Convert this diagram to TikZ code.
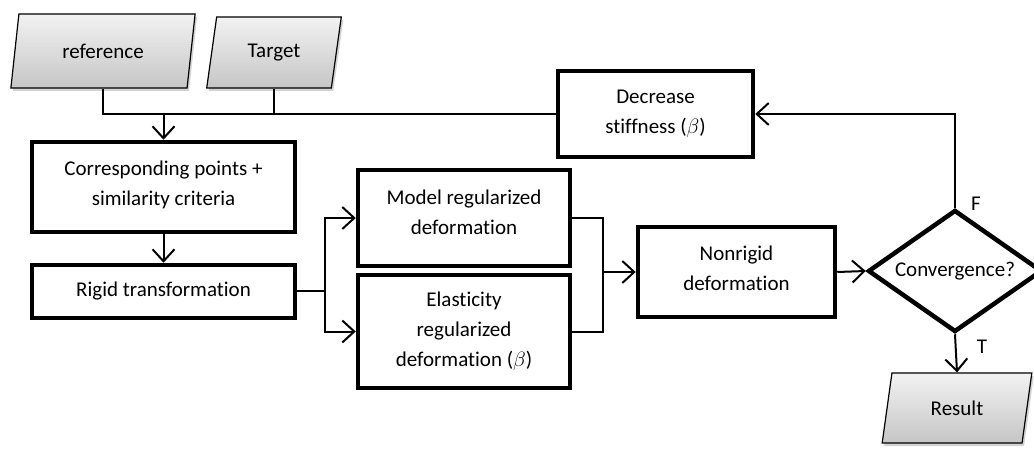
\documentclass[tikz,border=0pt]{standalone}
\usepackage{fontspec}
\setmainfont{Carlito}[Ligatures=NoCommon]
\usetikzlibrary{shapes.geometric,arrows.meta,shadows}
\begin{document}
\begin{tikzpicture}[x=1pt,y=-1pt,
  font=\fontsize{21}{30}\selectfont,
  procbox/.style={draw,line width=4.5pt,rectangle,align=center,inner sep=0pt,fill=white},
  iobox/.style={draw,line width=1.2pt,trapezium,trapezium left angle=75,trapezium right angle=105,
    trapezium stretches=true,top color=gray!10,bottom color=gray!45,inner sep=0pt,
    drop shadow={opacity=0.35,shadow xshift=2pt,shadow yshift=-3pt}},
  conn/.style={line width=2pt},
  arr/.style={conn,-{Straight Barb[length=12pt,width=22pt,line width=2pt]}},
]
\useasboundingbox (0,0) rectangle (1034,449);

\node[iobox,minimum width=186pt,minimum height=74pt] (ref) at (103,51) {reference\\[-24pt]\mbox{}};
\node[iobox,minimum width=135pt,minimum height=71pt] (tgt) at (274,52.5) {Target};
\node[procbox,minimum width=263pt,minimum height=90pt] (corr) at (163.5,187) {Corresponding points +\\similarity criteria\\[-22pt]\mbox{}};
\node[procbox,minimum width=263pt,minimum height=53pt] (rigid) at (163.5,291.5) {Rigid transformation};
\node[procbox,minimum width=212pt,minimum height=96pt] (model) at (464,218) {Model regularized\\deformation\\[-18pt]\mbox{}};
\node[procbox,minimum width=212pt,minimum height=113pt] (elastic) at (464,331.5) {Elasticity\\regularized\\deformation ($\beta$)};
\node[procbox,minimum width=197pt,minimum height=90pt] (nonrigid) at (736.5,272) {Nonrigid\\deformation\\[-22pt]\mbox{}};
\node[procbox,minimum width=195pt,minimum height=86pt] (dec) at (655.5,114) {Decrease\\stiffness ($\beta$)\\[-26pt]\mbox{}};
\node[draw,diamond,line width=4.5pt,inner sep=0pt,aspect=1.43,minimum width=174pt,minimum height=122pt,fill=white] (conv) at (955,271) {Convergence?};
\node[iobox,minimum width=150pt,minimum height=70pt] (res) at (957,408) {Result};
\node (F) at (976,204) {F};
\node (T) at (982,347) {T};

\coordinate (split) at (325,291.5);
\coordinate (join) at (603,272);

\draw[conn] (ref.south) |- (dec.west);
\draw[conn] (tgt.south) -- (tgt.south |- dec.west);
\draw[arr] (corr.north |- dec.west) -- (corr.north);
\draw[arr] (corr.south) -- (rigid.north);
\draw[conn] (rigid.east) -- (split);
\draw[arr] (split) |- (model.west);
\draw[arr] (split) |- (elastic.west);
\draw[conn] (model.east) -| (join) |- (elastic.east);
\draw[arr] (join) -- (nonrigid.west);
\draw[arr] (nonrigid.east) -- (conv.west);
\draw[arr] (conv.north) |- (dec.east);
\draw[arr] (conv.south) -- (res.north);
\end{tikzpicture}
\end{document}
